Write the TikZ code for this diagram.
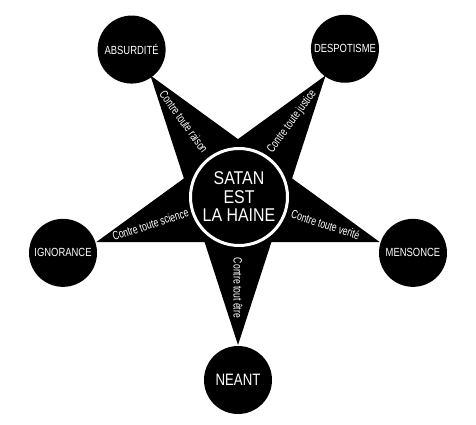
\documentclass[tikz,border=0pt]{standalone}
\usepackage{fontspec}
\setmainfont{Liberation Sans}
\newfontfamily\condsf[FakeStretch=0.8]{Liberation Sans}
\newfontfamily\armsf[FakeStretch=0.72]{Liberation Sans}
\newfontfamily\hainesf[FakeStretch=0.86]{Liberation Sans}
\usepackage{tikz}
\usetikzlibrary{positioning}

\begin{document}
\begin{tikzpicture}[x=1pt, y=1pt,
  tipdot/.style={circle, fill=black, text=white, minimum size=68pt, inner sep=0pt, font=\condsf\fontsize{11.8}{13}\selectfont},
  armtext/.style={text=white, inner sep=0pt, font=\armsf\fontsize{12}{12}\selectfont},
  hub/.style={circle, draw=white, line width=3pt, fill=black, text=white, minimum size=97pt, inner sep=0pt, align=center, font=\hainesf\fontsize{18.5}{18.5}\selectfont}]
  \fill[white] (-238,-229) rectangle (238,196);
  % the star
  \fill[black] (-90:149) -- (-54:56.9) -- (-18:149) -- (18:56.9) -- (54:149) -- (90:56.9)
    -- (126:149) -- (162:56.9) -- (198:149) -- (234:56.9) -- cycle;
  \node[hub] (satan) at (1,-1) {SATAN\\EST\\LA HAINE};
  % the five points
  \foreach \a/\d/\n/\t in {%
    126/181/absurdite/ABSURDITÉ,%
    54/182/despotisme/DESPOTISME,%
    198/184/ignorance/IGNORANCE,%
    -18/184/mensonce/MENSONCE%
  }{
    \node[tipdot] (\n) at (\a:\d) {\t};
  }
  \node[tipdot, font=\condsf\fontsize{16.5}{18}\selectfont] (neant) at (-90:184) {NEANT};
  % the arms
  \foreach \a/\r/\n/\t in {%
    126/-54/raison/Contre toute raison,%
    54/54/justice/Contre toute justice,%
    198/18/science/Contre toute science,%
    -18/-18/verite/Contre toute verité,%
    -90/-90/etre/Contre tout être%
  }{
    \node[armtext, rotate=\r] (\n) at (\a:92) {\t};
  }
\end{tikzpicture}
\end{document}
